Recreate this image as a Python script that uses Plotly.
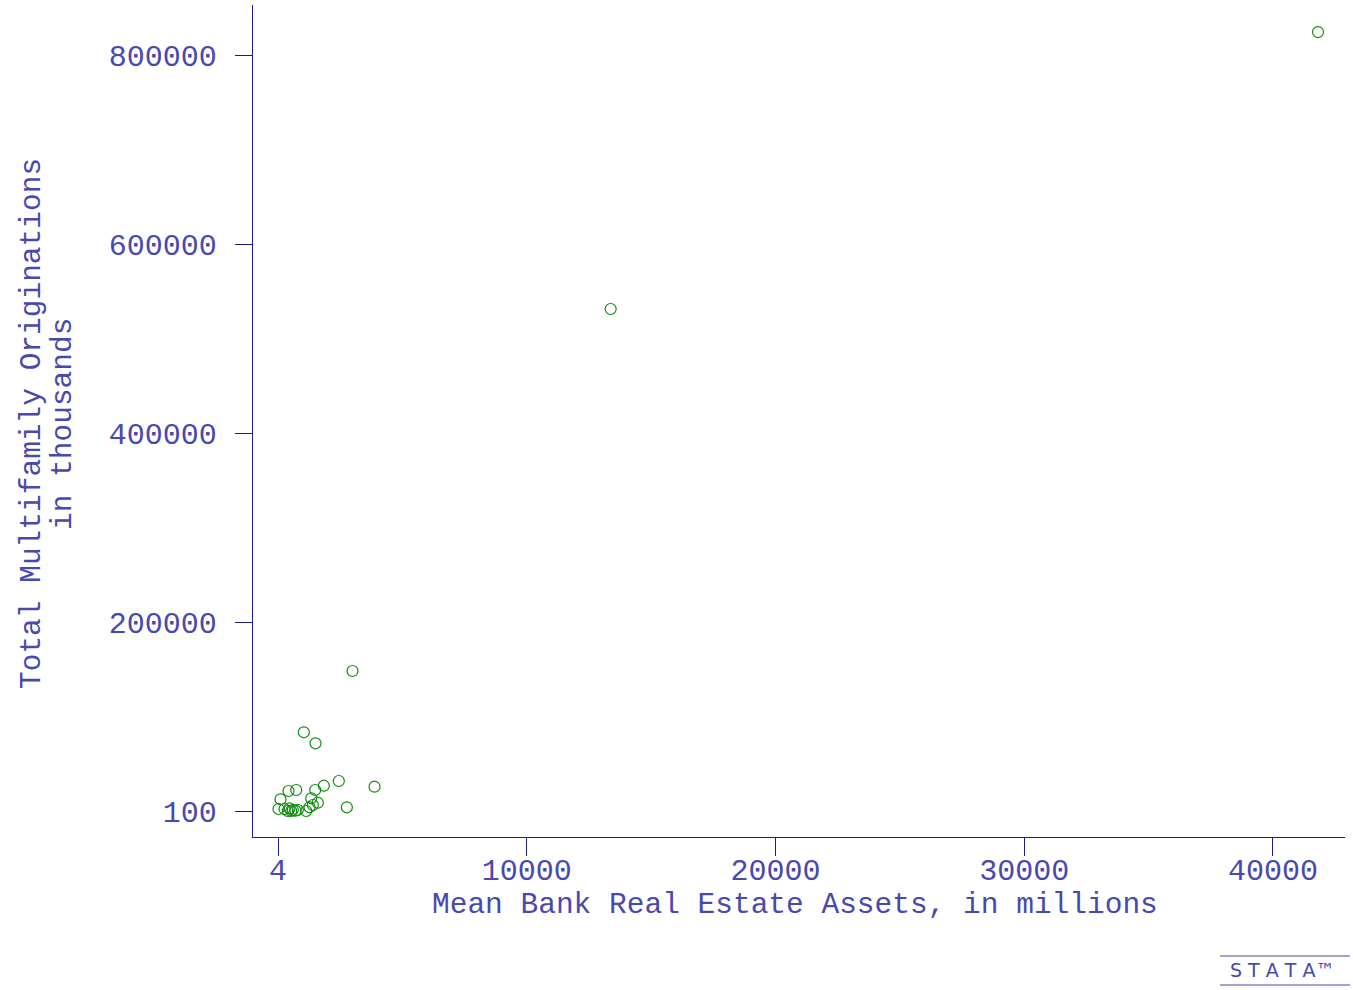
import plotly.graph_objects as go

# Data (x: mean bank real estate assets, millions; y: originations, thousands)
assets = [41810, 13376, 3000, 1042, 1512, 2449, 3885, 1846, 1500, 736, 426, 105,
          1339, 1605, 1404, 1271, 2771, 1138, 24, 265, 466, 599, 708, 398, 535, 800]
originations = [824300, 531250, 148230, 83370, 71730, 31840, 25810, 26870, 22320, 22320,
                21260, 12480, 13540, 8880, 6450, 4015, 4015, 100, 2216, 2216, 2957, 1158,
                417, 100, 100, 1158]

x_ticks = [4, 10000, 20000, 30000, 40000]
y_ticks = [100, 200000, 400000, 600000, 800000]
x_title = "Mean Bank Real Estate Assets, in millions"
y_title_lines = ["Total Multifamily Originations", "in thousands"]

axis_col = "#1a1a8c"
text_col = "#4848b0"
font_fam = "Liberation Mono"

fig = go.Figure()
fig.add_trace(go.Scatter(
    x=assets, y=originations, mode="markers",
    marker=dict(symbol="circle-open", size=11, color="#108a10", line=dict(width=1.2)),
    showlegend=False, hoverinfo="x+y"))

fig.update_layout(
    width=1353, height=990,
    margin=dict(l=253, r=8, t=5, b=153),
    plot_bgcolor="white", paper_bgcolor="white",
    font=dict(family=font_fam, size=30, color=text_col),
    xaxis=dict(
        range=[-1001, 42895], tickvals=x_ticks, ticktext=[str(v) for v in x_ticks],
        showgrid=False, zeroline=False, showline=True, linecolor=axis_col, linewidth=1.3,
        ticks="outside", ticklen=18, tickwidth=1.3, tickcolor=axis_col,
        ticklabelstandoff=-12,
        tickfont=dict(family=font_fam, size=30, color=text_col),
    ),
    yaxis=dict(
        range=[-27413, 852910], tickvals=y_ticks, ticktext=[str(v) for v in y_ticks],
        showgrid=False, zeroline=False, showline=True, linecolor=axis_col, linewidth=1.3,
        ticks="outside", ticklen=17, tickwidth=1.3, tickcolor=axis_col,
        ticklabelstandoff=12,
        tickfont=dict(family=font_fam, size=30, color=text_col),
    ),
)

# Axis titles
fig.add_annotation(xref="paper", yref="paper", x=(795 - 253) / 1092, y=(837 - 905) / 832,
                   xanchor="center", yanchor="middle", text=x_title, showarrow=False,
                   font=dict(family=font_fam, size=29.5, color=text_col))
for line, px in zip(y_title_lines, [32, 63]):
    fig.add_annotation(xref="paper", yref="paper", x=(px - 253) / 1092, y=(837 - 424) / 832,
                       xanchor="center", yanchor="middle", text=line, showarrow=False,
                       textangle=-90, font=dict(family=font_fam, size=29.5, color=text_col))

# Stata logo at bottom right
fig.add_annotation(xref="paper", yref="paper", x=(1282 - 253) / 1092, y=(837 - 970) / 832,
                   xanchor="center", yanchor="middle",
                   text="S T A T A™", showarrow=False,
                   font=dict(family="DejaVu Sans", size=19, color=text_col))
for ypx in [956, 985]:
    fig.add_shape(type="line", xref="paper", yref="paper",
                  x0=(1220 - 253) / 1092, x1=(1350 - 253) / 1092,
                  y0=(837 - ypx) / 832, y1=(837 - ypx) / 832,
                  line=dict(color=text_col, width=1.2))

fig.write_html("out.html")
